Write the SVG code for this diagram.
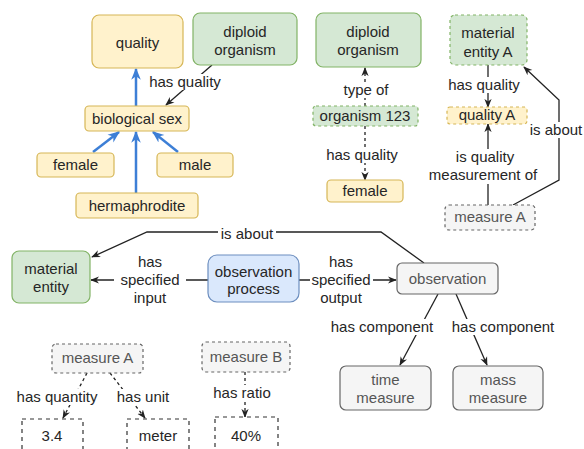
<svg xmlns="http://www.w3.org/2000/svg" width="584" height="449" viewBox="0 0 584 449">
<style>
text{font-family:"Liberation Sans",Arial,sans-serif;font-size:15px;fill:#262626;text-anchor:middle}
.y{fill:#fff2cc;stroke:#d6b656;stroke-width:1.2}
.g{fill:#d5e8d4;stroke:#82b366;stroke-width:1.2}
.b{fill:#dae8fc;stroke:#6c8ebf;stroke-width:1.2}
.r{fill:#f5f5f5;stroke:#666;stroke-width:1.2}
.d{stroke-dasharray:3 3}
.w{fill:#fff;stroke:#333;stroke-width:1.2;stroke-dasharray:4 4}
.gt{fill:#555}
.e{fill:none;stroke:#222;stroke-width:1.3}
.bl{fill:none;stroke:#3d7fd6;stroke-width:2.5}
.bg{fill:#fff}
</style>
<defs>
<marker id="ah" viewBox="0 0 10 10" refX="9" refY="5" markerWidth="9" markerHeight="9" orient="auto" markerUnits="userSpaceOnUse"><path d="M0,1 L10,5 L0,9 L3,5 z" fill="#222"/></marker>
<marker id="bh" viewBox="0 0 10 10" refX="9" refY="5" markerWidth="12" markerHeight="12" orient="auto" markerUnits="userSpaceOnUse"><path d="M0,1 L10,5 L0,9 L3,5 z" fill="#3d7fd6"/></marker>
</defs>
<rect width="584" height="449" fill="#fff"/>
<g id="connectors">
<line class="bl" x1="136" y1="106" x2="136" y2="69" marker-end="url(#bh)"/>
<line class="bl" x1="93" y1="152" x2="119" y2="132" marker-end="url(#bh)"/>
<line class="bl" x1="136" y1="193" x2="136" y2="132" marker-end="url(#bh)"/>
<line class="bl" x1="178" y1="152" x2="153" y2="132" marker-end="url(#bh)"/>
<line class="e" x1="212" y1="65" x2="166" y2="105" marker-end="url(#ah)"/>
<line class="e d" x1="365" y1="106" x2="365" y2="68" marker-end="url(#ah)"/>
<line class="e d" x1="365" y1="126" x2="365" y2="180" marker-end="url(#ah)"/>
<line class="e" x1="488" y1="65" x2="488" y2="107" marker-end="url(#ah)"/>
<line class="e" x1="488" y1="205" x2="488" y2="124" marker-end="url(#ah)"/>
<path class="e" d="M513,205 L559,180 L559,100 L524,67" marker-end="url(#ah)"/>
<path class="e" d="M424,263 L381,232 L147,232 L92,257" marker-end="url(#ah)"/>
<line class="e" x1="208" y1="280" x2="91" y2="280" marker-end="url(#ah)"/>
<line class="e" x1="299" y1="280" x2="396" y2="280" marker-end="url(#ah)"/>
<line class="e" x1="438" y1="294" x2="400" y2="365" marker-end="url(#ah)"/>
<line class="e" x1="456" y1="294" x2="487" y2="365" marker-end="url(#ah)"/>
<line class="e d" x1="87" y1="373" x2="63" y2="418" marker-end="url(#ah)"/>
<line class="e d" x1="110" y1="373" x2="145" y2="418" marker-end="url(#ah)"/>
<line class="e d" x1="245" y1="372" x2="245" y2="417" marker-end="url(#ah)"/>
<rect class="bg" x="148" y="74" width="74" height="16"/><text x="185" y="87">has quality</text>
<rect class="bg" x="341" y="82" width="50" height="16"/><text x="366" y="95">type of</text>
<rect class="bg" x="324" y="147" width="76" height="16"/><text x="362" y="160">has quality</text>
<rect class="bg" x="447" y="77" width="74" height="16"/><text x="484" y="90">has quality</text>
<rect class="bg" x="434" y="149" width="102" height="35"/><text x="485" y="162">is quality</text><text x="483" y="180">measurement of</text>
<rect class="bg" x="529" y="122" width="55" height="16"/><text x="556" y="135">is about</text>
<rect class="bg" x="218" y="226" width="58" height="16"/><text x="247" y="239">is about</text>
<rect class="bg" x="114" y="253" width="72" height="52"/><text x="150" y="267">has</text><text x="150" y="285">specified</text><text x="150" y="303">input</text>
<rect class="bg" x="310" y="253" width="63" height="52"/><text x="341" y="267">has</text><text x="341" y="285">specified</text><text x="341" y="303">output</text>
<rect class="bg" x="333" y="319" width="98" height="16"/><text x="382" y="332">has component</text>
<rect class="bg" x="453" y="319" width="100" height="16"/><text x="503" y="332">has component</text>
<rect class="bg" x="14" y="389" width="88" height="16"/><text x="57" y="402">has quantity</text>
<rect class="bg" x="114" y="389" width="60" height="16"/><text x="143" y="402">has unit</text>
<rect class="bg" x="213" y="385" width="60" height="16"/><text x="242" y="398">has ratio</text>
</g>
<g id="n-quality"><rect class="y" x="92" y="15" width="91" height="53" rx="7"/><text x="137.5" y="48">quality</text></g>
<g id="n-diploid1"><rect class="g" x="193" y="13" width="104" height="52" rx="7"/><text x="245" y="37">diploid</text><text x="245" y="55">organism</text></g>
<g id="n-biosex"><rect class="y" x="85" y="106" width="104" height="25" rx="4"/><text x="137" y="124">biological sex</text></g>
<g id="n-female1"><rect class="y" x="37" y="153" width="77" height="24" rx="4"/><text x="75.5" y="170">female</text></g>
<g id="n-male"><rect class="y" x="157" y="153" width="76" height="24" rx="4"/><text x="195" y="170">male</text></g>
<g id="n-herm"><rect class="y" x="76" y="193" width="122" height="25" rx="4"/><text x="137" y="211">hermaphrodite</text></g>
<g id="n-diploid2"><rect class="g" x="316" y="13" width="105" height="54" rx="7"/><text x="368" y="37">diploid</text><text x="368" y="55">organism</text></g>
<g id="n-org123"><rect class="g d" x="313" y="106" width="105" height="20" rx="3"/><text x="365" y="121">organism 123</text></g>
<g id="n-female2"><rect class="y" x="327" y="180" width="76" height="22" rx="4"/><text x="365" y="196">female</text></g>
<g id="n-matA"><rect class="g d" x="450" y="15" width="77" height="50" rx="5"/><text x="488" y="38">material</text><text x="488" y="57">entity A</text></g>
<g id="n-qualA"><rect class="y d" x="447" y="107" width="80" height="17" rx="3"/><text x="487" y="120">quality A</text></g>
<g id="n-measA1"><rect class="r d" x="445" y="205" width="90" height="25" rx="4"/><text class="gt" x="490" y="222">measure A</text></g>
<g id="n-matent"><rect class="g" x="12" y="251" width="78" height="52" rx="7"/><text x="51" y="274">material</text><text x="51" y="292">entity</text></g>
<g id="n-obsproc"><rect class="b" x="208" y="255" width="91" height="47" rx="9"/><text x="253.5" y="277">observation</text><text x="253.5" y="294">process</text></g>
<g id="n-obs"><rect class="r" x="397" y="263" width="101" height="31" rx="5"/><text class="gt" x="447.5" y="284">observation</text></g>
<g id="n-time"><rect class="r" x="340" y="366" width="91" height="44" rx="6"/><text class="gt" x="385.5" y="385">time</text><text class="gt" x="385.5" y="403">measure</text></g>
<g id="n-mass"><rect class="r" x="453" y="366" width="90" height="44" rx="6"/><text class="gt" x="498" y="385">mass</text><text class="gt" x="498" y="403">measure</text></g>
<g id="n-measA2"><rect class="r d" x="52" y="344" width="91" height="29" rx="4"/><text class="gt" x="97.5" y="363">measure A</text></g>
<g id="n-measB"><rect class="r d" x="202" y="342" width="88" height="30" rx="4"/><text class="gt" x="246" y="362">measure B</text></g>
<g id="n-34"><rect class="w" x="22" y="419" width="61" height="42"/><text x="52" y="441">3.4</text></g>
<g id="n-meter"><rect class="w" x="127" y="419" width="62" height="42"/><text x="158" y="441">meter</text></g>
<g id="n-40"><rect class="w" x="215" y="417" width="63" height="44"/><text x="246" y="441">40%</text></g>
</svg>
